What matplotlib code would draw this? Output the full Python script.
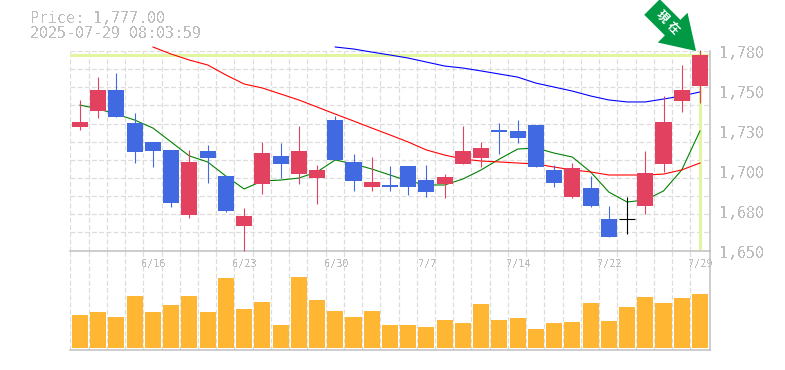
import matplotlib
matplotlib.use('Agg')
import matplotlib.pyplot as plt
from matplotlib.patches import FancyArrow
from matplotlib.transforms import IdentityTransform
import numpy as np

W, H = 785, 370

# prices (open/close is implied by the colour)
opens = [1730.5, 1741.1, 1754.6, 1733.3, 1720.7, 1715.5, 1673.3, 1714.8, 1698.5, 1666.0,
         1693.5, 1711.6, 1699.8, 1697.2, 1735.0, 1707.7, 1691.4, 1692.7, 1705.1, 1695.9,
         1693.3, 1706.4, 1710.3, 1728.5, 1727.9, 1731.8, 1702.5, 1684.9, 1690.7, 1670.5,
         1670.3, 1679.0, 1706.4, 1747.4, 1757.2]
closes = [1733.7, 1754.6, 1737.2, 1714.4, 1715.0, 1681.1, 1707.7, 1710.3, 1675.9, 1672.5,
          1713.5, 1706.4, 1714.8, 1702.5, 1709.0, 1695.3, 1694.6, 1691.4, 1691.4, 1688.1,
          1697.9, 1714.8, 1716.8, 1727.2, 1723.3, 1704.4, 1694.0, 1703.8, 1679.0, 1658.8,
          1670.3, 1700.5, 1733.7, 1754.6, 1777.6]
highs = [1748.1, 1763.0, 1765.7, 1739.6, 1720.7, 1715.5, 1715.5, 1718.7, 1698.5, 1677.7,
         1720.7, 1720.2, 1731.1, 1705.7, 1737.6, 1712.9, 1710.9, 1705.1, 1705.1, 1705.7,
         1699.8, 1731.1, 1720.7, 1733.1, 1735.0, 1731.8, 1705.7, 1707.0, 1698.5, 1679.0,
         1684.9, 1714.8, 1750.7, 1770.9, 1780.6]
lows = [1728.5, 1736.5, 1737.2, 1707.2, 1704.6, 1678.5, 1671.2, 1694.2, 1675.3, 1650.0,
        1686.8, 1697.2, 1693.3, 1680.3, 1709.0, 1688.8, 1688.8, 1688.8, 1686.2, 1684.9,
        1684.2, 1706.4, 1704.4, 1712.9, 1720.0, 1704.4, 1691.4, 1684.2, 1678.3, 1658.8,
        1660.8, 1673.8, 1701.2, 1740.2, 1746.1]
volumes = [33, 36, 31, 52, 36, 43, 52, 36, 70, 39, 46, 23, 71, 48, 37, 31, 37, 23,
           23, 21, 28, 25, 44, 28, 30, 19, 25, 26, 45, 27, 41, 51, 45, 50, 54]

ma_short = [1744.8, 1742.2, 1738.9, 1735.0, 1729.8, 1720.7, 1711.6, 1707.7, 1698.5, 1690.1,
            1695.3, 1695.9, 1697.2, 1701.2, 1709.0, 1706.4, 1703.1, 1699.2, 1695.3, 1692.7,
            1692.7, 1696.6, 1702.5, 1709.6, 1716.1, 1716.8, 1713.5, 1710.9, 1701.2, 1688.1,
            1681.6, 1682.9, 1688.8, 1702.5, 1727.9]
# these two start later, there is no line before that
ma_mid_start = 4
ma_mid = [1782.6, 1778.0, 1774.1, 1770.9, 1764.4, 1758.5, 1755.9, 1752.0, 1748.1, 1743.5,
          1738.9, 1734.4, 1729.8, 1725.3, 1720.7, 1715.5, 1712.2, 1709.6, 1708.3, 1707.7,
          1707.0, 1706.4, 1704.4, 1702.5, 1701.2, 1699.2, 1699.2, 1699.2, 1699.8, 1702.5,
          1707.0]
ma_long_start = 14
ma_long = [1782.6, 1781.3, 1779.3, 1777.4, 1775.4, 1772.8, 1770.2, 1768.9, 1767.0, 1765.0,
           1763.0, 1759.1, 1756.5, 1753.9, 1750.7, 1748.1, 1746.8, 1746.8, 1748.7, 1750.7,
           1753.3]

price_text = 'Price: 1,777.00'
time_text = '2025-07-29 08:03:59'
price_ticks = [1780, 1754, 1728, 1702, 1676, 1650]
price_labels = ['1,780', '1,750', '1,730', '1,700', '1,680', '1,650']
date_idx = [4, 9, 14, 19, 24, 29, 34]
date_labels = ['6/16', '6/23', '6/30', '7/7', '7/14', '7/22', '7/29']

RED = '#E2415F'
BLUE = '#4169E1'
GRID = '#DCDCDC'
AXIS = '#BEBEBE'
TEXT = '#BDBDBD'
HILITE = '#E2F5A0'
ORANGE = '#FFB733'
mono = 'DejaVu Sans Mono'
PX = 0.72  # one pixel in points

fig = plt.figure(figsize=(W / 100, H / 100), dpi=100)


def panel(left, top, right, bottom):
    return fig.add_axes([left / W, 1 - bottom / H, (right - left) / W, (bottom - top) / H])


ax = panel(70, 51, 710, 250.5)
vol = panel(70, 250.5, 710, 349.5)

x = np.arange(len(closes))
xlim = (-0.548, 34.55)
grid_x = x - 0.53
dash = (0, (4, 2))

for a in (ax, vol):
    a.set_xlim(xlim)
    a.set_xticks(grid_x)
    a.tick_params(length=0, labelbottom=False, labelleft=False)
    a.grid(axis='x', color=GRID, lw=PX * 1.2, ls=dash, zorder=0)
    a.set_axisbelow(True)
    for s in ('top', 'left'):
        a.spines[s].set_visible(False)
    for s in ('right', 'bottom'):
        a.spines[s].set_color(AXIS)
        a.spines[s].set_linewidth(PX * 1.5)

ax.set_ylim(1650, 1780)
ax.set_yticks(np.linspace(1650, 1780, 12))
ax.grid(axis='y', color=GRID, lw=PX * 1.2, ls=dash, zorder=0)
ax.patch.set_alpha(0)

# current price cross
ax.axhline(closes[-1], color=HILITE, lw=PX * 3, zorder=1)
ax.axvline(x[-1], ymin=0.01, color=HILITE, lw=PX * 3, zorder=1)

ax.plot(x, ma_short, color='#008000', lw=PX * 1.1, zorder=2)
ax.plot(x[ma_mid_start:], ma_mid, color='#FF0000', lw=PX * 1.1, zorder=2, clip_on=False)
ax.plot(x[ma_long_start:], ma_long, color='#0000FF', lw=PX * 1.1, zorder=2, clip_on=False)

for i in x:
    o, c = opens[i], closes[i]
    col = 'black' if o == c else (RED if c > o else BLUE)
    ax.vlines(i, lows[i], highs[i], color=col, lw=PX * 1.1, zorder=3, clip_on=False)
    if o == c:
        ax.hlines(c, i - 0.44, i + 0.44, color=col, lw=PX * 1.1, zorder=3)
    else:
        ax.bar(i, abs(c - o), bottom=min(o, c), width=0.88, color=col, lw=0, zorder=4)

vol.bar(x, volumes, width=0.88, color=ORANGE, lw=0, zorder=3)
vol.set_ylim(-1.5, 97.5)
vol.patch.set_alpha(0)

for v, lab in zip(price_ticks, price_labels):
    t = ax.annotate(lab, (1, v), xycoords=ax.get_yaxis_transform(), xytext=(9, -3),
                    textcoords='offset pixels', family=mono, fontsize=10.8, color=TEXT,
                    va='center', ha='left')
    t.set_antialiased(False)

for i, lab in zip(date_idx, date_labels):
    t = vol.annotate(lab, (i, 1), xycoords=vol.get_xaxis_transform(), xytext=(1, -13),
                     textcoords='offset pixels', family=mono, fontsize=7.4, color=TEXT,
                     va='center', ha='center', zorder=5, annotation_clip=False)
    t.set_antialiased(False)

for txt, ypos in ((price_text, 18.5), (time_text, 33.5)):
    t = fig.text(30 / W, 1 - ypos / H, txt, family=mono, fontsize=10.8,
                 color=TEXT, va='center', ha='left')
    t.set_antialiased(False)

# green arrow with the vertical caption, in pixels of the figure
arrow = FancyArrow(652, H - 7, 44, -44, width=22, head_width=42, head_length=33,
                   length_includes_head=True, color='#009944', lw=0,
                   transform=IdentityTransform(), zorder=6)
fig.add_artist(arrow)
cjk = ['Noto Sans CJK JP', 'DejaVu Sans']
for ch, cx, cy in (('現', 662, 17), ('在', 673, 28)):
    fig.text(cx / W, 1 - cy / H, ch, family=cjk, fontsize=8.5, fontweight='bold', color='white',
             rotation=-45, rotation_mode='anchor', ha='center', va='center', zorder=7)

fig.savefig('out.png', dpi=100)
